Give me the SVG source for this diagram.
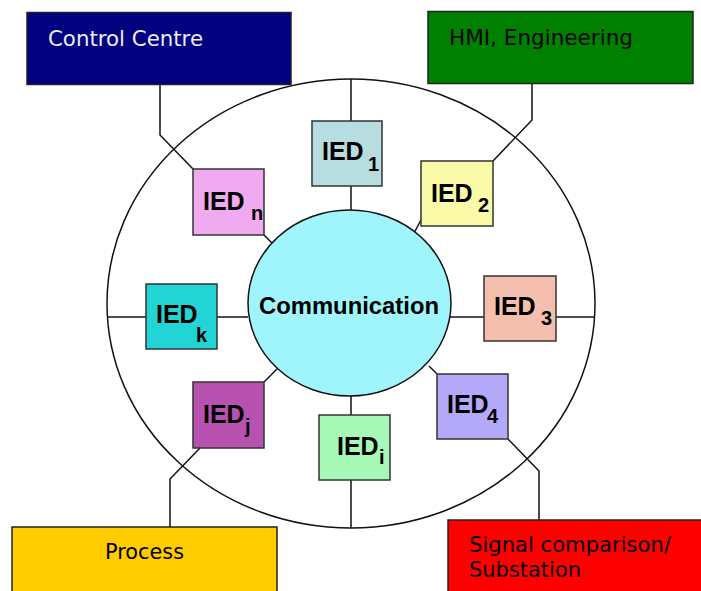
<svg xmlns="http://www.w3.org/2000/svg" width="701" height="591" viewBox="0 0 701 591">
<style>
.box{stroke:#222;stroke-width:1.5}
.ied{stroke:#333;stroke-width:1.5}
.lbl{font-family:"DejaVu Sans",Verdana,sans-serif;font-size:21px;fill:#000}
.ib{font-family:"Liberation Sans",Arial,sans-serif;font-weight:bold;font-size:25px;fill:#000}
.is{font-family:"Liberation Sans",Arial,sans-serif;font-weight:bold;font-size:20px;fill:#000}
.ln{fill:none;stroke:#111;stroke-width:1.5}
</style>
<rect width="701" height="591" fill="#fff"/>
<g id="ring"><ellipse cx="351" cy="303.5" rx="244" ry="224.5" fill="none" stroke="#111" stroke-width="1.5"/></g>
<g id="connectors">
<polyline class="ln" points="160,85 160,135 193,169"/>
<line class="ln" x1="264" y1="235" x2="273" y2="244"/>
<line class="ln" x1="351" y1="79" x2="351" y2="121"/>
<line class="ln" x1="351" y1="186" x2="351" y2="210"/>
<polyline class="ln" points="532,84 532,120 493,161"/>
<line class="ln" x1="421" y1="220" x2="414" y2="233"/>
<line class="ln" x1="107" y1="317" x2="146" y2="317"/>
<line class="ln" x1="217" y1="317" x2="248" y2="317"/>
<line class="ln" x1="445" y1="317" x2="484" y2="317"/>
<line class="ln" x1="556" y1="317" x2="595" y2="317"/>
<line class="ln" x1="437" y1="374" x2="429" y2="366"/>
<polyline class="ln" points="508,439 539,471 539,520"/>
<line class="ln" x1="351" y1="396" x2="351" y2="415"/>
<line class="ln" x1="351" y1="480" x2="351" y2="528"/>
<line class="ln" x1="264" y1="382" x2="280" y2="366"/>
<polyline class="ln" points="200,448 170,479 170,527"/>
</g>
<g id="communication">
<ellipse cx="349.5" cy="303" rx="101.5" ry="93" fill="#a0f5fc" stroke="#111" stroke-width="1.5"/>
<text class="ib" x="349" y="314" text-anchor="middle" textLength="180" lengthAdjust="spacingAndGlyphs" style="font-size:24px">Communication</text>
</g>
<g id="control-centre">
<rect class="box" x="27" y="12.5" width="264" height="72" fill="#000080"/>
<text class="lbl" x="48" y="45.5" style="fill:#ececec" textLength="155" lengthAdjust="spacingAndGlyphs">Control Centre</text>
</g>
<g id="hmi">
<rect class="box" x="428" y="11.5" width="265" height="72" fill="#008000"/>
<text class="lbl" x="449" y="45" textLength="184" lengthAdjust="spacingAndGlyphs">HMI, Engineering</text>
</g>
<g id="process">
<rect class="box" x="12" y="527" width="265" height="70" fill="#ffcc00"/>
<text class="lbl" x="105" y="559" textLength="79" lengthAdjust="spacingAndGlyphs">Process</text>
</g>
<g id="signal">
<rect class="box" x="448" y="520" width="260" height="80" fill="#ff0000"/>
<text class="lbl" x="469" y="552" textLength="202" lengthAdjust="spacingAndGlyphs">Signal comparison/</text>
<text class="lbl" x="469" y="577" textLength="112" lengthAdjust="spacingAndGlyphs">Substation</text>
</g>
<g id="ied-1">
<rect class="ied" x="312" y="121" width="70" height="65" fill="#b8dde0"/>
<text class="ib" x="322" y="160">IED</text><text class="is" x="368" y="171">1</text>
</g>
<g id="ied-2">
<rect class="ied" x="421" y="161" width="72" height="65" fill="#fafaa8"/>
<text class="ib" x="431" y="202">IED</text><text class="is" x="478" y="212">2</text>
</g>
<g id="ied-3">
<rect class="ied" x="484" y="276" width="72" height="65" fill="#f4bfad"/>
<text class="ib" x="494" y="315">IED</text><text class="is" x="541" y="325">3</text>
</g>
<g id="ied-4">
<rect class="ied" x="437" y="374" width="71" height="65" fill="#b4a8f8"/>
<text class="ib" x="447" y="413">IED</text><text class="is" x="487" y="423">4</text>
</g>
<g id="ied-i">
<rect class="ied" x="319" y="415" width="71" height="65" fill="#a6f8b6"/>
<text class="ib" x="337" y="455">IED</text><text class="is" x="379" y="464">i</text>
</g>
<g id="ied-j">
<rect class="ied" x="193" y="382" width="71" height="66" fill="#b852b0"/>
<text class="ib" x="203" y="423">IED</text><text class="is" x="245" y="433">j</text>
</g>
<g id="ied-k">
<rect class="ied" x="146" y="284" width="71" height="65" fill="#22d4d4"/>
<text class="ib" x="156" y="323">IED</text><text class="is" x="196" y="342">k</text>
</g>
<g id="ied-n">
<rect class="ied" x="193" y="169" width="71" height="66" fill="#f0aaf0"/>
<text class="ib" x="203" y="210">IED</text><text class="is" x="251" y="220">n</text>
</g>
</svg>
